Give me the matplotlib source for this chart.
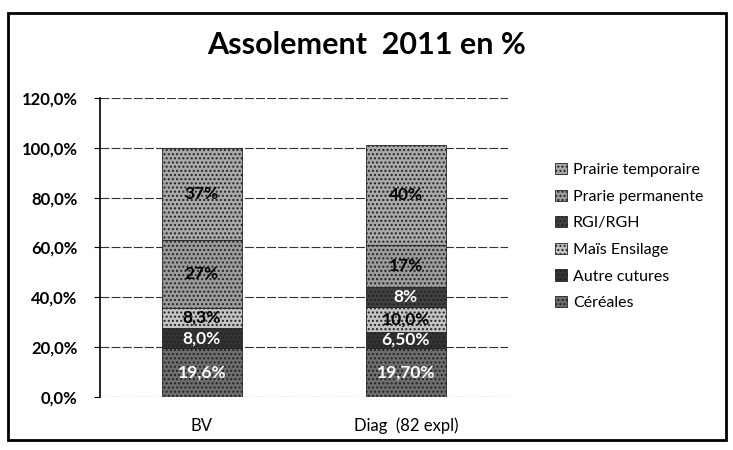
import numpy as np
import matplotlib
matplotlib.use("Agg")
import matplotlib.pyplot as plt
from matplotlib.patches import Rectangle

plt.rcParams['font.family'] = ['Lato', 'DejaVu Sans']

# Données
groupes = ["BV", "Diag  (82 expl)"]
cultures = ["Céréales", "Autre cutures", "Maïs Ensilage", "RGI/RGH",
            "Prarie permanente", "Prairie temporaire"]
valeurs = {
    "Céréales": [19.6, 19.7],
    "Autre cutures": [8.0, 6.5],
    "Maïs Ensilage": [8.3, 10.0],
    "RGI/RGH": [0.0, 8.0],
    "Prarie permanente": [27.0, 17.0],
    "Prairie temporaire": [37.0, 40.0],
}
etiquettes = {
    "Céréales": ["19,6%", "19,70%"],
    "Autre cutures": ["8,0%", "6,50%"],
    "Maïs Ensilage": ["8,3%", "10,0%"],
    "RGI/RGH": ["", "8%"],
    "Prarie permanente": ["27%", "17%"],
    "Prairie temporaire": ["37%", "40%"],
}
couleurs = {
    "Céréales": "#6e6e6e",
    "Autre cutures": "#333333",
    "Maïs Ensilage": "#c4c4c4",
    "RGI/RGH": "#404040",
    "Prarie permanente": "#9c9c9c",
    "Prairie temporaire": "#a9a9a9",
}
couleurs_texte = {
    "Céréales": "white",
    "Autre cutures": "white",
    "Maïs Ensilage": "black",
    "RGI/RGH": "white",
    "Prarie permanente": "black",
    "Prairie temporaire": "black",
}

fig = plt.figure(figsize=(7.33, 4.5), dpi=100)
ax = fig.add_axes([0.136, 0.118, 0.557, 0.664])

# Cadre autour du graphique
fig.patches.append(Rectangle((0.011, 0.022), 0.98, 0.95, transform=fig.transFigure,
                             fill=False, edgecolor="black", linewidth=2))

x = np.arange(len(groupes))
bas = np.zeros(len(groupes))
for c in cultures:
    v = np.array(valeurs[c])
    barres = ax.bar(x, v, bottom=bas, width=0.39, color=couleurs[c],
                    edgecolor="#222222", linewidth=0.6, hatch="....", label=c, zorder=3)
    for b, lab in zip(barres, etiquettes[c]):
        if lab:
            ax.text(b.get_x() + b.get_width() / 2, b.get_y() + b.get_height() / 2, lab,
                    ha="center", va="center", fontsize=12.5, fontweight="bold",
                    color=couleurs_texte[c], zorder=4)
    bas += v

ax.set_ylim(0, 120)
ax.set_xlim(-0.5, 1.5)
ax.set_yticks(np.arange(0, 121, 20))
ax.set_yticklabels([f"{t:.1f}%".replace(".", ",") for t in range(0, 121, 20)],
                   fontsize=12, fontweight="bold")
ax.set_xticks(x)
ax.set_xticklabels(groupes, fontsize=12)
ax.tick_params(axis="x", length=0, pad=15)
ax.tick_params(axis="y", length=4, direction="out", pad=12)
ax.grid(axis="y", color="#333333", linewidth=0.8, linestyle=(0, (8, 2)), zorder=0)
ax.set_axisbelow(True)
for s in ["top", "right", "bottom"]:
    ax.spines[s].set_visible(False)
ax.spines["left"].set_linewidth(1.2)

fig.suptitle("Assolement  2011 en %", x=0.5, y=0.93, fontsize=22, fontweight="bold")

h, l = ax.get_legend_handles_labels()
fig.legend(h[::-1], l[::-1], loc="upper left", bbox_to_anchor=(0.738, 0.67),
           frameon=False, fontsize=11.5, handlelength=0.7, handleheight=0.7,
           handletextpad=0.4, labelspacing=0.78)

fig.savefig("out.png", dpi=100)
